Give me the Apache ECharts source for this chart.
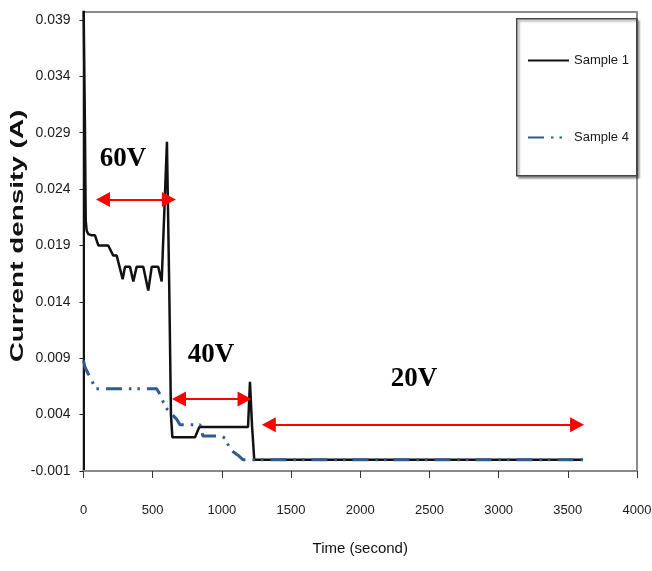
<!DOCTYPE html>
<html>
<head>
<meta charset="utf-8">
<script src="https://cdn.jsdelivr.net/npm/echarts@6/dist/echarts.min.js"></script>
<style>
html,body{margin:0;padding:0;background:#fff;}
#chart{width:652px;height:571px;}
</style>
</head>
<body>
<div id="chart"></div>
<script>
// ---- data ----
const s1Time  = [0, 10, 16, 23, 35, 59, 83, 107, 179, 215, 240, 283, 300, 336, 360, 384, 432, 468, 493, 540, 565, 577, 603, 620, 632, 642, 806, 837, 1189, 1203, 1218, 1234, 3610];
const s1Value = [0.0410, 0.0300, 0.0212, 0.0203, 0.0200, 0.0199, 0.0199, 0.0190, 0.0190, 0.0181, 0.0181, 0.0160, 0.0171, 0.0171, 0.0158, 0.0171, 0.0171, 0.0150, 0.0171, 0.0171, 0.0158, 0.0158, 0.0282, 0.0150, 0.0040, 0.0020, 0.0020, 0.0029, 0.0029, 0.0069, 0.0030, 0.0000, 0.0000];

const s4Time  = [0, 11, 35, 59, 71, 90, 529, 553, 577, 596, 625, 673, 697, 842, 863, 999, 1023, 1046, 1059, 1116, 1152, 3610];
const s4Value = [0.0088, 0.0082, 0.0076, 0.0071, 0.0067, 0.0063, 0.0063, 0.0058, 0.0051, 0.0046, 0.0042, 0.0036, 0.0031, 0.0031, 0.0021, 0.0021, 0.0019, 0.0013, 0.0009, 0.0004, 0.0000, 0.0000];

const seriesNames = ['Sample 1', 'Sample 4'];

const xMin = 0, xMax = 4000, xStep = 500;
const yMin = -0.001, yMax = 0.0397, yStep = 0.005;

// voltage stage annotations (double arrows + labels)
const stageLabels = ['60V', '40V', '20V'];
const arrowFrom   = [141, 690, 1339];
const arrowTo     = [617, 1164, 3567];
const arrowLevel  = [0.02307, 0.00539, 0.0031];
const labelTime   = [285, 921, 2388];
const labelLevel  = [0.0267, 0.00925, 0.00715];

const sans = "'Liberation Sans', Arial, sans-serif";

function pairs(t, v) { return t.map((x, i) => [x, v[i]]); }

const chart = echarts.init(document.getElementById('chart'), null, {renderer: 'canvas'});

const option = {
  animation: false,
  backgroundColor: '#ffffff',
  grid: {
    left: 83.5, right: 15, top: 12, bottom: 100,
    outerBoundsMode: 'none', containLabel: false,
    show: true, borderColor: '#8a8a8a', borderWidth: 2, backgroundColor: 'transparent'
  },
  legend: {
    data: seriesNames,
    orient: 'vertical',
    left: 527, top: 54,
    itemWidth: 41, itemHeight: 14, itemGap: 64,
    padding: 0,
    itemStyle: {opacity: 0},
    textStyle: {fontFamily: sans, fontSize: 13, color: '#1a1a1a'}
  },
  graphic: [
    {
      type: 'rect', left: 516, top: 18, z: 0,
      shape: {width: 120, height: 157},
      style: {fill: '#fff', stroke: '#444', lineWidth: 1.5,
              shadowColor: 'rgba(0,0,0,0.35)', shadowBlur: 2, shadowOffsetX: 2, shadowOffsetY: 2}
    },
    {
      type: 'text', x: 18.5, y: 236, rotation: Math.PI / 2, scaleX: 1.55,
      style: {text: 'Current density (A)', font: "bold 18px 'Liberation Sans', Arial, sans-serif",
              fill: '#111', align: 'center', verticalAlign: 'middle'}
    }
  ],
  xAxis: {
    type: 'value', min: xMin, max: xMax, interval: xStep,
    name: 'Time (second)', nameLocation: 'middle', nameGap: 70,
    nameTextStyle: {fontFamily: sans, fontSize: 15, color: '#111'},
    axisLine: {show: true, onZero: false, lineStyle: {color: '#8a8a8a', width: 2}},
    axisTick: {show: true, inside: false, length: 7, lineStyle: {color: '#333', width: 1}},
    axisLabel: {margin: 33, fontFamily: sans, fontSize: 13, color: '#1a1a1a',
                formatter: v => String(v)},
    splitLine: {show: false}
  },
  yAxis: {
    type: 'value', min: yMin, max: yMax, interval: yStep,
    axisLine: {show: true, onZero: false, lineStyle: {color: '#111', width: 2}},
    axisTick: {show: true, inside: false, length: 4, lineStyle: {color: '#222', width: 1}},
    axisLabel: {margin: 13, fontFamily: sans, fontSize: 14, color: '#1a1a1a', showMaxLabel: false,
                formatter: v => v.toFixed(3)},
    splitLine: {show: false}
  },
  series: [
    {
      name: seriesNames[0], type: 'line', data: pairs(s1Time, s1Value),
      showSymbol: false, symbol: 'none', clip: true, z: 3,
      lineStyle: {color: '#111', width: 2.5}, itemStyle: {color: '#111'}
    },
    {
      name: seriesNames[1], type: 'line', data: pairs(s4Time, s4Value),
      showSymbol: false, symbol: 'none', clip: true, z: 4,
      lineStyle: {color: '#2f5b8f', width: 3, type: [16, 7, 2.5, 6, 2.5, 7], cap: 'butt'},
      itemStyle: {color: '#2f5b8f'}
    },
    {
      name: 'annotations', type: 'line', data: [], z: 5, silent: true,
      markLine: {
        silent: true, animation: false,
        symbol: ['triangle', 'triangle'], symbolSize: [15, 14],
        lineStyle: {color: '#ff0000', width: 2, type: 'solid'},
        itemStyle: {color: '#ff0000'},
        label: {show: false},
        emphasis: {disabled: true},
        data: stageLabels.map((s, i) => [
          {coord: [arrowFrom[i], arrowLevel[i]]},
          {coord: [arrowTo[i], arrowLevel[i]]}
        ])
      },
      markPoint: {
        silent: true, animation: false,
        symbol: 'circle', symbolSize: 1,
        itemStyle: {color: 'rgba(0,0,0,0)'},
        label: {show: true, position: 'inside', formatter: '{b}',
                fontFamily: "'Liberation Serif','Times New Roman',serif", fontWeight: 'bold',
                fontSize: 27, color: '#000'},
        data: stageLabels.map((s, i) => ({name: s, coord: [labelTime[i], labelLevel[i]]}))
      }
    }
  ]
};

chart.setOption(option);
</script>
</body>
</html>
